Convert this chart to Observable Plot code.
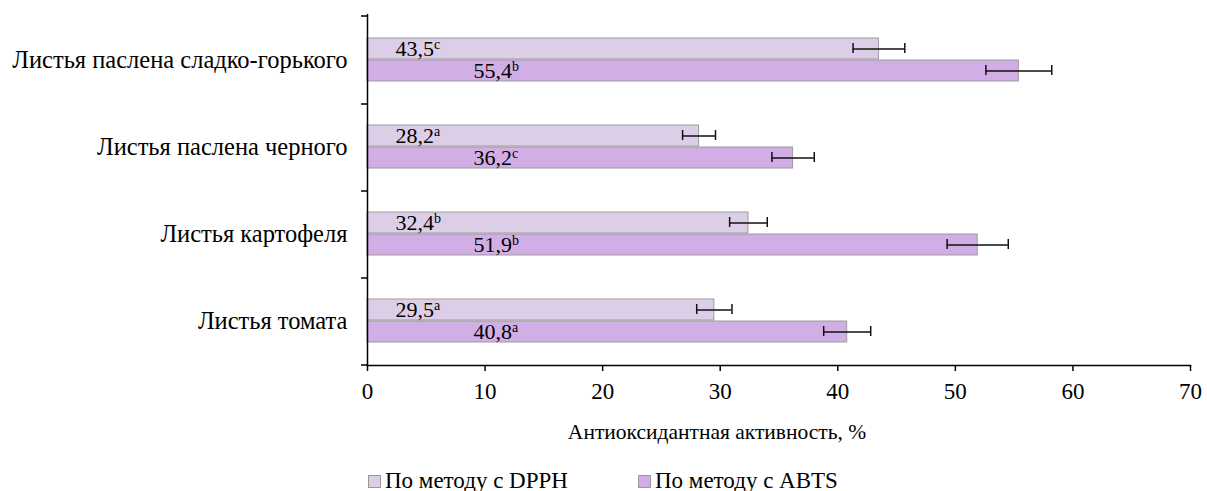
<!DOCTYPE html>
<html>
<head>
<meta charset="utf-8">
<script src="https://cdn.jsdelivr.net/npm/d3@7"></script>
<script src="https://cdn.jsdelivr.net/npm/@observablehq/plot@0.6"></script>
</head>
<body style="margin:0">
<div id="chart"></div>
<div id="legend" style="position:relative;height:31px;color:#000"></div>
<script>
const categories = ["Листья паслена сладко-горького", "Листья паслена черного", "Листья картофеля", "Листья томата"];
const dpph = [43.5, 28.2, 32.4, 29.5];
const dpphErr = [2.2, 1.4, 1.6, 1.5];
const dpphLetters = ["c", "a", "b", "a"];
const abts = [55.4, 36.2, 51.9, 40.8];
const abtsErr = [2.8, 1.8, 2.6, 2.0];
const abtsLetters = ["b", "c", "b", "a"];
const xTicks = [0, 10, 20, 30, 40, 50, 60, 70];
const seriesNames = ["По методу с DPPH", "По методу с ABTS"];
const xLabel = "Антиоксидантная активность, %";

const colDPPH = "#ddcee8", colABTS = "#d1aee6", edge = "#9c9c9c";
const SERIF = '"Liberation Serif"';

const data = categories.map((c, i) => ({
  c, dpph: dpph[i], de: dpphErr[i], dl: dpphLetters[i],
  abts: abts[i], ae: abtsErr[i], al: abtsLetters[i]
}));
const fmt = v => v.toFixed(1).replace(".", ",");

const plot = Plot.plot({
  width: 1207,
  height: 460,
  marginTop: 14,
  marginBottom: 95,
  marginLeft: 367,
  marginRight: 17,
  style: { color: "#000", background: "#fff" },
  x: { domain: [0, 70] },
  y: { domain: categories, padding: 0 },
  marks: [
    Plot.barX(data, { y: "c", x: "dpph", fill: colDPPH, stroke: edge, strokeWidth: 1, insetTop: 22, insetBottom: 44 }),
    Plot.barX(data, { y: "c", x: "abts", fill: colABTS, stroke: edge, strokeWidth: 1, insetTop: 44, insetBottom: 22 }),
    Plot.ruleY(data, { y: "c", x1: d => d.dpph - d.de, x2: d => d.dpph + d.de, dy: -11, stroke: "#111", strokeWidth: 1.5 }),
    Plot.ruleY(data, { y: "c", x1: d => d.abts - d.ae, x2: d => d.abts + d.ae, dy: 11, stroke: "#111", strokeWidth: 1.5 }),
    Plot.tickX(data, { y: "c", x: d => d.dpph - d.de, insetTop: 27, insetBottom: 50, stroke: "#111", strokeWidth: 1.5 }),
    Plot.tickX(data, { y: "c", x: d => d.dpph + d.de, insetTop: 27, insetBottom: 50, stroke: "#111", strokeWidth: 1.5 }),
    Plot.tickX(data, { y: "c", x: d => d.abts - d.ae, insetTop: 49, insetBottom: 28, stroke: "#111", strokeWidth: 1.5 }),
    Plot.tickX(data, { y: "c", x: d => d.abts + d.ae, insetTop: 49, insetBottom: 28, stroke: "#111", strokeWidth: 1.5 }),
    Plot.text(data, { y: "c", x: 0, text: d => fmt(d.dpph) + "^" + d.dl, dx: 28, dy: -11, textAnchor: "start", fill: "#000", fontSize: 22, fontFamily: "Liberation Serif" }),
    Plot.text(data, { y: "c", x: 0, text: d => fmt(d.abts) + "^" + d.al, dx: 106, dy: 11, textAnchor: "start", fill: "#000", fontSize: 22, fontFamily: "Liberation Serif" }),
    Plot.ruleX([0], { stroke: "#000", strokeWidth: 1.5 }),
    Plot.frame({ anchor: "bottom", stroke: "#000", strokeWidth: 1.5 }),
    Plot.ruleY(categories, { y: d => d, dy: 44, x1: 0, x2: 0, insetLeft: -6, stroke: "#000", strokeWidth: 1.5 }),
    Plot.ruleY([categories[0]], { y: d => d, dy: -44, x1: 0, x2: 0, insetLeft: -6, stroke: "#000", strokeWidth: 1.5 }),
    Plot.axisY({ tickSize: 0, tickPadding: 20, label: null, fontSize: 24.5, fontFamily: "Liberation Serif" }),
    Plot.axisX({ ticks: xTicks, tickSize: 6, tickPadding: 11, label: null, strokeWidth: 1.5, tickFormat: d => String(d), fontSize: 23, fontFamily: "Liberation Serif" }),
    Plot.text([xLabel], { frameAnchor: "bottom", dx: -62, dy: 73, fill: "#000", fontSize: 21.5, fontFamily: "Liberation Serif" })
  ]
});
plot.setAttribute("font-family", "Liberation Serif");
plot.style.fontFamily = SERIF;

plot.querySelectorAll("text").forEach(t => {
  t.style.fontFamily = SERIF;
  t.setAttribute("font-family", "Liberation Serif");
  if (t.textContent.includes("^")) {
    const [num, sup] = t.textContent.split("^");
    t.textContent = "";
    const a = document.createElementNS("http://www.w3.org/2000/svg", "tspan");
    a.textContent = num;
    const b = document.createElementNS("http://www.w3.org/2000/svg", "tspan");
    b.textContent = sup;
    b.setAttribute("dy", "-7");
    b.setAttribute("font-size", "14px");
    t.appendChild(a); t.appendChild(b);
  }
});
document.getElementById("chart").appendChild(plot);

const legend = document.getElementById("legend");
[[seriesNames[0], colDPPH, 368], [seriesNames[1], colABTS, 638]].forEach(([name, col, left]) => {
  const it = document.createElement("div");
  it.style.position = "absolute";
  it.style.top = "9px";
  it.style.left = left + "px";
  it.style.display = "flex";
  it.style.alignItems = "center";
  it.style.lineHeight = "24px";
  const sw = document.createElement("div");
  sw.style.width = "11px";
  sw.style.height = "11px";
  sw.style.border = "1px solid #999";
  sw.style.marginRight = "4px";
  sw.style.background = col;
  const sp = document.createElement("div");
  sp.textContent = name;
  sp.style.fontFamily = SERIF;
  sp.style.fontSize = "23px";
  it.appendChild(sw); it.appendChild(sp);
  legend.appendChild(it);
});
</script>
</body>
</html>
